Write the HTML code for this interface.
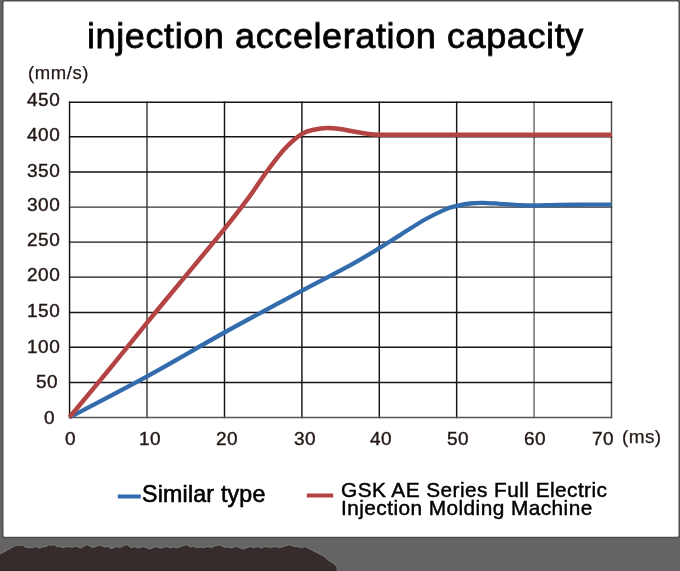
<!DOCTYPE html>
<html><head><meta charset="utf-8"><style>
html,body{margin:0;padding:0;}
body{width:680px;height:571px;overflow:hidden;background:#656363;position:relative;font-family:"Liberation Sans",sans-serif;}
.t{position:absolute;line-height:1;white-space:nowrap;color:#231815;will-change:transform;}
svg{position:absolute;left:0;top:0;}
</style></head><body>
<svg width="680" height="571" viewBox="0 0 680 571">
<rect x="2.75" y="0.75" width="676.5" height="536.65" rx="2" ry="2" fill="#fff" stroke="#4f4d4b" stroke-width="1.5"/>
<polyline points="0,554.1 16,545.3 22.5,545.3 27,547.9 30,547.6 32.5,547.9 35.5,546.6 39.5,548.1 43,546.9 46,546.6 49.5,544.6 51.5,545.6 53.5,544.6 58,547.1 60,546.3 62.5,547.9 65,547.1 68,546.9 70,546.6 72,547.6 75,546.1 81,548.1 86.5,544.6 93,547.6 99.5,545.1 105,547.1 108,546.6 111,548.6 117,546.6 120,547.6 126.5,544.6 131.5,547.9 134,546.6 138,547.9 143.5,546.6 149.5,549.1 156,546.6 161,548.3 166,546.6 170.5,547.9 173.5,546.9 177,548.1 181,546.6 186.5,544.6 190.5,547.1 193,546.1 196,547.6 200,547.1 204,547.6 208,546.6 211.5,547.6 214.5,546.1 219.5,544.9 225,547.6 227,546.9 230.5,548.1 236.5,546.3 243,549.1 250,546.6 253.5,547.6 257.5,546.6 262,548.1 264,546.9 267.4,546.7 269.6,547.5 275.2,546.7 279.6,547.5 284.1,546.4 289.1,544.7 293.6,546.4 297.5,546.7 300.9,547.5 305.3,546.9 311,549.7 317.6,553.1 324.3,556.4 326.6,559.2 332.2,562.6 335.5,565.4" fill="none" stroke="#7a7878" stroke-width="1"/>
<polygon points="0,555 16,546.2 22.5,546.2 27,548.8 30,548.5 32.5,548.8 35.5,547.5 39.5,549 43,547.8 46,547.5 49.5,545.5 51.5,546.5 53.5,545.5 58,548 60,547.2 62.5,548.8 65,548 68,547.8 70,547.5 72,548.5 75,547 81,549 86.5,545.5 93,548.5 99.5,546 105,548 108,547.5 111,549.5 117,547.5 120,548.5 126.5,545.5 131.5,548.8 134,547.5 138,548.8 143.5,547.5 149.5,550 156,547.5 161,549.2 166,547.5 170.5,548.8 173.5,547.8 177,549 181,547.5 186.5,545.5 190.5,548 193,547 196,548.5 200,548 204,548.5 208,547.5 211.5,548.5 214.5,547 219.5,545.8 225,548.5 227,547.8 230.5,549 236.5,547.2 243,550 250,547.5 253.5,548.5 257.5,547.5 262,549 264,547.8 267.4,547.6 269.6,548.4 275.2,547.6 279.6,548.4 284.1,547.3 289.1,545.6 293.6,547.3 297.5,547.6 300.9,548.4 305.3,547.8 311,550.6 317.6,554 324.3,557.3 326.6,560.1 332.2,563.5 335.5,566.3 336.3,571 0,571" fill="#362c2b" stroke="#2a2221" stroke-width="0.6"/>
<g stroke="#141414" stroke-width="1.45" fill="none">
<line x1="69.56" y1="101.50" x2="69.56" y2="418.20" stroke="#141414"/>
<line x1="147.00" y1="101.50" x2="147.00" y2="418.20" stroke="#3a3a3a"/>
<line x1="224.50" y1="101.50" x2="224.50" y2="418.20" stroke="#141414"/>
<line x1="301.90" y1="101.50" x2="301.90" y2="418.20" stroke="#141414"/>
<line x1="379.30" y1="101.50" x2="379.30" y2="418.20" stroke="#141414"/>
<line x1="456.65" y1="101.50" x2="456.65" y2="418.20" stroke="#141414"/>
<line x1="534.10" y1="101.50" x2="534.10" y2="418.20" stroke="#6a6a6a"/>
<line x1="611.50" y1="101.50" x2="611.50" y2="418.20" stroke="#4a4a4a"/>
<line x1="68.86" y1="102.20" x2="612.20" y2="102.20" stroke="#141414"/>
<line x1="68.86" y1="136.70" x2="612.20" y2="136.70" stroke="#141414"/>
<line x1="68.86" y1="172.00" x2="612.20" y2="172.00" stroke="#141414"/>
<line x1="68.86" y1="207.10" x2="612.20" y2="207.10" stroke="#333"/>
<line x1="68.86" y1="242.10" x2="612.20" y2="242.10" stroke="#141414"/>
<line x1="68.86" y1="277.10" x2="612.20" y2="277.10" stroke="#141414"/>
<line x1="68.86" y1="312.40" x2="612.20" y2="312.40" stroke="#141414"/>
<line x1="68.86" y1="347.20" x2="612.20" y2="347.20" stroke="#141414"/>
<line x1="68.86" y1="382.40" x2="612.20" y2="382.40" stroke="#141414"/>
<line x1="68.86" y1="417.50" x2="612.20" y2="417.50" stroke="#555"/>
</g>
<path d="M69.50,417.30 C82.43,410.47 121.27,390.43 147.10,376.30 C172.93,362.17 198.65,346.80 224.50,332.50 C250.35,318.20 281.28,301.68 302.20,290.50 C323.12,279.32 337.17,272.45 350.00,265.40 C362.83,258.35 370.87,253.25 379.20,248.20 C387.53,243.15 392.37,239.88 400.00,235.10 C407.63,230.32 417.33,223.83 425.00,219.50 C432.67,215.17 440.83,211.33 446.00,209.10 C451.17,206.87 452.00,207.03 456.00,206.10 C460.00,205.17 465.62,204.05 470.00,203.50 C474.38,202.95 477.30,202.75 482.30,202.80 C487.30,202.85 493.72,203.40 500.00,203.80 C506.28,204.20 514.17,204.92 520.00,205.20 C525.83,205.48 528.33,205.55 535.00,205.50 C541.67,205.45 550.83,205.05 560.00,204.90 C569.17,204.75 581.42,204.65 590.00,204.60 C598.58,204.55 607.92,204.60 611.50,204.60" stroke="#336cac" stroke-width="4.3" fill="none" stroke-linejoin="round"/>
<path d="M69.50,417.30 C76.03,409.42 95.77,385.78 108.70,370.00 C121.63,354.22 134.43,338.08 147.10,322.60 C159.77,307.12 171.80,292.73 184.70,277.10 C197.60,261.48 213.68,242.32 224.50,228.85 C235.32,215.38 242.60,205.78 249.60,196.30 C256.60,186.83 260.72,179.85 266.50,172.00 C272.28,164.15 278.38,155.55 284.30,149.20 C290.22,142.85 296.88,137.18 302.00,133.90 C307.12,130.62 310.83,130.48 315.00,129.50 C319.17,128.52 322.83,128.08 327.00,128.00 C331.17,127.92 334.83,128.28 340.00,129.00 C345.17,129.72 351.50,131.35 358.00,132.30 C364.50,133.25 368.67,134.30 379.00,134.70 C389.33,135.10 381.17,134.70 420.00,134.70 C458.83,134.70 580.00,134.70 612.00,134.70" stroke="#b44443" stroke-width="4.5" fill="none" stroke-linejoin="round"/>
<rect x="117.8" y="494.5" width="23" height="4" fill="#336cac"/>
<rect x="306.8" y="493.5" width="26.4" height="4" fill="#b44443"/>
</svg>
<div class="t" style="left:87.25px;top:17.98px;font-size:36px;color:#000;letter-spacing:0.6px;-webkit-text-stroke:0.8px #000;transform:scaleY(0.95);transform-origin:0 30.5px;">injection acceleration capacity</div>
<div class="t" style="left:28.20px;top:64.18px;font-size:18.5px;letter-spacing:0.6px;-webkit-text-stroke:0.25px #231815;">(mm/s)</div>
<div class="t" style="left:621.70px;top:427.32px;font-size:19px;letter-spacing:0.4px;-webkit-text-stroke:0.25px #231815;">(ms)</div>
<div class="t" style="left:141.94px;top:483.32px;font-size:23.2px;color:#000;letter-spacing:0.2px;-webkit-text-stroke:0.6px #000;">Similar type</div>
<div class="t" style="left:340.79px;top:481.18px;font-size:20.8px;line-height:18px;color:#000;letter-spacing:0.45px;-webkit-text-stroke:0.45px #000;">GSK AE Series Full Electric<br>Injection Molding Machine</div>
<div class="t" style="left:27.07px;top:90.25px;font-size:19px;letter-spacing:0.55px;-webkit-text-stroke:0.4px #231815;">450</div>
<div class="t" style="left:27.07px;top:125.25px;font-size:19px;letter-spacing:0.55px;-webkit-text-stroke:0.4px #231815;">400</div>
<div class="t" style="left:27.27px;top:161.25px;font-size:19px;letter-spacing:0.55px;-webkit-text-stroke:0.4px #231815;">350</div>
<div class="t" style="left:27.27px;top:195.15px;font-size:19px;letter-spacing:0.55px;-webkit-text-stroke:0.4px #231815;">300</div>
<div class="t" style="left:27.17px;top:230.25px;font-size:19px;letter-spacing:0.55px;-webkit-text-stroke:0.4px #231815;">250</div>
<div class="t" style="left:27.17px;top:265.25px;font-size:19px;letter-spacing:0.55px;-webkit-text-stroke:0.4px #231815;">200</div>
<div class="t" style="left:26.87px;top:301.25px;font-size:19px;letter-spacing:0.55px;-webkit-text-stroke:0.4px #231815;">150</div>
<div class="t" style="left:27.07px;top:336.65px;font-size:19px;letter-spacing:0.55px;-webkit-text-stroke:0.4px #231815;">100</div>
<div class="t" style="left:36.47px;top:372.05px;font-size:19px;letter-spacing:0.55px;-webkit-text-stroke:0.4px #231815;">50</div>
<div class="t" style="left:43.97px;top:408.15px;font-size:19px;letter-spacing:0.55px;-webkit-text-stroke:0.4px #231815;">0</div>
<div class="t" style="left:64.57px;top:429.15px;font-size:19px;letter-spacing:0.5px;-webkit-text-stroke:0.4px #231815;">0</div>
<div class="t" style="left:138.67px;top:429.15px;font-size:19px;letter-spacing:0.5px;-webkit-text-stroke:0.4px #231815;">10</div>
<div class="t" style="left:216.37px;top:429.15px;font-size:19px;letter-spacing:0.5px;-webkit-text-stroke:0.4px #231815;">20</div>
<div class="t" style="left:293.92px;top:429.15px;font-size:19px;letter-spacing:0.5px;-webkit-text-stroke:0.4px #231815;">30</div>
<div class="t" style="left:369.57px;top:429.15px;font-size:19px;letter-spacing:0.5px;-webkit-text-stroke:0.4px #231815;">40</div>
<div class="t" style="left:446.62px;top:429.15px;font-size:19px;letter-spacing:0.5px;-webkit-text-stroke:0.4px #231815;">50</div>
<div class="t" style="left:524.22px;top:429.15px;font-size:19px;letter-spacing:0.5px;-webkit-text-stroke:0.4px #231815;">60</div>
<div class="t" style="left:591.77px;top:429.35px;font-size:19px;letter-spacing:0.5px;-webkit-text-stroke:0.4px #231815;">70</div>
</body></html>
